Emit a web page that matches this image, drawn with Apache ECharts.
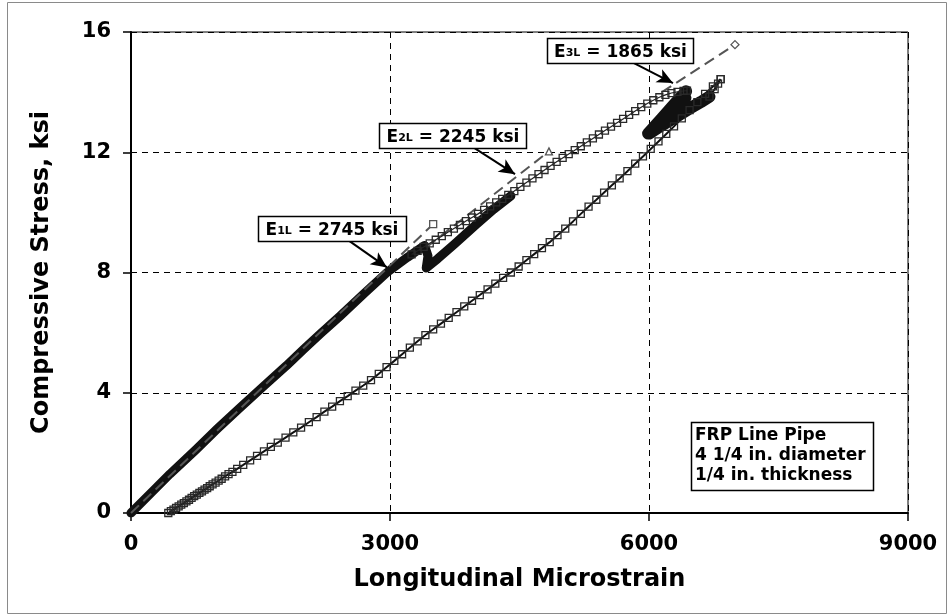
<!DOCTYPE html>
<html>
<head>
<meta charset="utf-8">
<script src="https://cdn.jsdelivr.net/npm/echarts@6/dist/echarts.min.js"></script>
<style>
html,body{margin:0;padding:0;background:#fff;}
#c{width:947px;height:615px;}
</style>
</head>
<body>
<div id="c"></div>
<script>
// ---- data (microstrain, ksi) ----
// dense initial loading + first unload/reload cycle (drawn as a thick band of overlapping markers)
const bandStrain = [0,250,452,750,1000,1250,1529,1800,2000,2200,2421,2700,2965,3200,3400,3440,3420,3550,3750,4000,4200,4400];
const bandStress = [0,0.72,1.3,2.1,2.8,3.47,4.2,4.9,5.45,5.98,6.55,7.3,8.0,8.5,8.9,8.55,8.15,8.45,8.95,9.6,10.1,10.55];

// loading envelope with visible square markers
const upperStrain = [3250,3320,3390,3460,3530,3600,3670,3740,3810,3880,3950,4020,4090,4160,4230,4300,4370,4440,4510,4580,4650,4720,4790,4860,4930,5000,5070,5140,5210,5280,5350,5420,5490,5560,5630,5700,5770,5840,5910,5980,6050,6120,6190,6260,6330,6400,6440];
const upperStress = [8.60,8.72,8.85,8.97,9.09,9.21,9.34,9.46,9.58,9.71,9.83,9.95,10.08,10.20,10.33,10.45,10.58,10.71,10.85,10.99,11.13,11.27,11.41,11.55,11.68,11.81,11.94,12.07,12.20,12.33,12.46,12.59,12.72,12.85,12.98,13.11,13.24,13.37,13.50,13.62,13.73,13.83,13.91,13.97,14.01,14.04,14.05];

// dense unload/reload cycles near the top
const loopStrain = [6430,6300,6150,5990,6150,6300,6420,6300,6150,6000,6150,6300,6450,6600,6700];
const loopStress = [14.03,13.62,13.13,12.62,13.05,13.45,13.8,13.3,12.92,12.62,12.9,13.15,13.42,13.67,13.85];

// final reload to peak
const peakStrain = [6700,6760,6800,6830];
const peakStress = [13.85,14.1,14.28,14.43];

// final unloading branch
const unloadStrain = [432,462,492,522,552,582,612,642,672,702,732,762,792,822,852,882,912,945,980,1015,1050,1090,1130,1175,1230,1300,1380,1460,1540,1620,1700,1790,1880,1970,2060,2150,2240,2330,2420,2510,2600,2690,2780,2870,2960,3050,3140,3230,3320,3410,3500,3590,3680,3770,3860,3950,4040,4130,4220,4310,4400,4490,4580,4670,4760,4850,4940,5030,5120,5210,5300,5390,5480,5570,5660,5750,5840,5930,6020,6110,6200,6290,6380,6470,6560,6650,6740,6830];
const unloadStress = [0,0.06,0.11,0.17,0.22,0.28,0.33,0.39,0.44,0.5,0.56,0.61,0.67,0.72,0.78,0.83,0.89,0.95,1.01,1.08,1.14,1.22,1.29,1.37,1.47,1.6,1.75,1.9,2.05,2.2,2.34,2.51,2.68,2.84,3.02,3.19,3.37,3.54,3.72,3.89,4.07,4.24,4.42,4.63,4.85,5.06,5.28,5.5,5.71,5.92,6.11,6.3,6.49,6.68,6.87,7.06,7.25,7.44,7.63,7.82,8.0,8.2,8.41,8.61,8.81,9.01,9.24,9.46,9.7,9.95,10.19,10.42,10.66,10.9,11.13,11.37,11.62,11.86,12.11,12.36,12.61,12.86,13.13,13.4,13.67,13.94,14.19,14.43];

// modulus lines
const e1Strain = [0,3500],    e1Stress = [0,9.61];
const e2Strain = [3430,4841], e2Stress = [8.86,12.03];
const e3Strain = [6150,6996], e3Stress = [14.0,15.58];

// annotation arrows [fromStrain, fromStress, toStrain, toStress]
const arrowE1 = [2502,9.1,2965,8.17];
const arrowE2 = [3961,12.17,4448,11.27];
const arrowE3 = [5803,15.0,6278,14.3];

const xTicks = [0,3000,6000,9000];
const yTicks = [0,4,8,12,16];

// ---- helpers ----
const zip = (a,b) => a.map((v,i)=>[v,b[i]]);
const FONT = 'DejaVu Sans';
const sq = {color:'rgba(255,255,255,0)', borderColor:'#2a2a2a', borderWidth:1.3};

function modLine(xs, ys, endSymbol, arrow) {
  return {
    type:'line', z:4,
    data: xs.map((x,i)=>({value:[x,ys[i]], symbol: i===xs.length-1 ? endSymbol : 'none'})),
    symbolSize: endSymbol==='diamond'?8:7,
    itemStyle:{color:'#fff', borderColor:'#555', borderWidth:1.3},
    lineStyle:{color:'#555', width:2, type:[11,6]},
    markLine:{
      silent:true, symbol:['none','arrow'], symbolSize:[11,16],
      lineStyle:{color:'#000', width:2, type:'solid'},
      label:{show:false},
      data:[[{coord:[arrow[0],arrow[1]]},{coord:[arrow[2],arrow[3]]}]]
    }
  };
}

function richLabel(sub, rest) {
  return {
    text:'{a|E}{b|' + sub + '}{a| = ' + rest + '}',
    rich:{
      a:{fontFamily:FONT, fontWeight:'bold', fontSize:17, fill:'#000', lineHeight:20, verticalAlign:'bottom'},
      b:{fontFamily:FONT, fontWeight:'bold', fontSize:11, fill:'#000', lineHeight:20, verticalAlign:'bottom', padding:[0,0,3,0]}
    }
  };
}

const chart = echarts.init(document.getElementById('c'), null, {renderer:'canvas'});
const axisLabelStyle = {color:'#000', fontFamily:FONT, fontWeight:'bold', fontSize:21};

chart.setOption({
  animation:false,
  backgroundColor:'#fff',
  grid:{left:131, right:39, top:32, bottom:102, show:true, borderColor:'#000', borderWidth:1, backgroundColor:'transparent'},
  xAxis:{
    type:'value', min:xTicks[0], max:xTicks[xTicks.length-1], interval:3000,
    name:'Longitudinal Microstrain', nameLocation:'middle', nameGap:55,
    nameTextStyle:{color:'#000', fontFamily:FONT, fontWeight:'bold', fontSize:24},
    axisLine:{lineStyle:{color:'#000', width:2}},
    axisTick:{show:true, inside:false, length:8, lineStyle:{color:'#000', width:1.5}},
    axisLabel:Object.assign({margin:21, formatter:(v)=>String(v)}, axisLabelStyle),
    splitLine:{show:true, lineStyle:{color:'#000', width:1, type:[6,5]}}
  },
  yAxis:{
    type:'value', min:yTicks[0], max:yTicks[yTicks.length-1], interval:4,
    name:'Compressive Stress, ksi', nameLocation:'middle', nameGap:77, nameRotate:90,
    nameTextStyle:{color:'#000', fontFamily:FONT, fontWeight:'bold', fontSize:24},
    axisLine:{lineStyle:{color:'#000', width:2}},
    axisTick:{show:true, inside:false, length:8, lineStyle:{color:'#000', width:1.5}},
    axisLabel:Object.assign({margin:20, formatter:(v)=>String(v)}, axisLabelStyle),
    splitLine:{show:true, lineStyle:{color:'#000', width:1, type:[6,5]}}
  },
  series:[
    {type:'line', z:3, data:zip(bandStrain,bandStress), symbol:'none', lineStyle:{color:'#111', width:9, join:'round', cap:'round'}},
    {type:'line', z:5, data:zip(upperStrain,upperStress), symbol:'rect', symbolSize:7, itemStyle:sq, lineStyle:{color:'#222', width:1.2}},
    {type:'line', z:3, data:zip(loopStrain,loopStress), symbol:'none', lineStyle:{color:'#111', width:12, join:'round', cap:'round'}},
    {type:'line', z:5, data:zip(peakStrain,peakStress), symbol:'rect', symbolSize:7, itemStyle:sq, lineStyle:{color:'#111', width:2}},
    {type:'line', z:5, data:zip(unloadStrain,unloadStress), symbol:'rect', symbolSize:7, itemStyle:sq, lineStyle:{color:'#111', width:2}},
    modLine(e1Strain, e1Stress, 'rect', arrowE1),
    modLine(e2Strain, e2Stress, 'triangle', arrowE2),
    modLine(e3Strain, e3Stress, 'diamond', arrowE3)
  ],
  graphic:[
    {type:'rect', z:0, shape:{x:7.5, y:2.5, width:939, height:611}, style:{fill:'none', stroke:'#8a8a8a', lineWidth:1}},
    {type:'rect', z:10, shape:{x:258.5, y:216.5, width:148, height:25}, style:{fill:'#fff', stroke:'#000', lineWidth:1.5}},
    {type:'text', z:11, style:Object.assign({x:332, y:229.5, align:'center', verticalAlign:'middle'}, richLabel('1L','2745 ksi'))},
    {type:'rect', z:10, shape:{x:379.5, y:123.5, width:147, height:25}, style:{fill:'#fff', stroke:'#000', lineWidth:1.5}},
    {type:'text', z:11, style:Object.assign({x:453, y:136.5, align:'center', verticalAlign:'middle'}, richLabel('2L','2245 ksi'))},
    {type:'rect', z:10, shape:{x:547.5, y:38.5, width:146, height:25}, style:{fill:'#fff', stroke:'#000', lineWidth:1.5}},
    {type:'text', z:11, style:Object.assign({x:620.5, y:51.5, align:'center', verticalAlign:'middle'}, richLabel('3L','1865 ksi'))},
    {type:'rect', z:10, shape:{x:691.5, y:422.5, width:182, height:68}, style:{fill:'#fff', stroke:'#000', lineWidth:1.5}},
    {type:'text', z:11, style:{x:695, y:426, align:'left', verticalAlign:'top',
      text:'FRP Line Pipe\n4 1/4 in. diameter\n1/4 in. thickness',
      font:'bold 17px "DejaVu Sans"', lineHeight:20, fill:'#000'}}
  ]
});
</script>
</body>
</html>
